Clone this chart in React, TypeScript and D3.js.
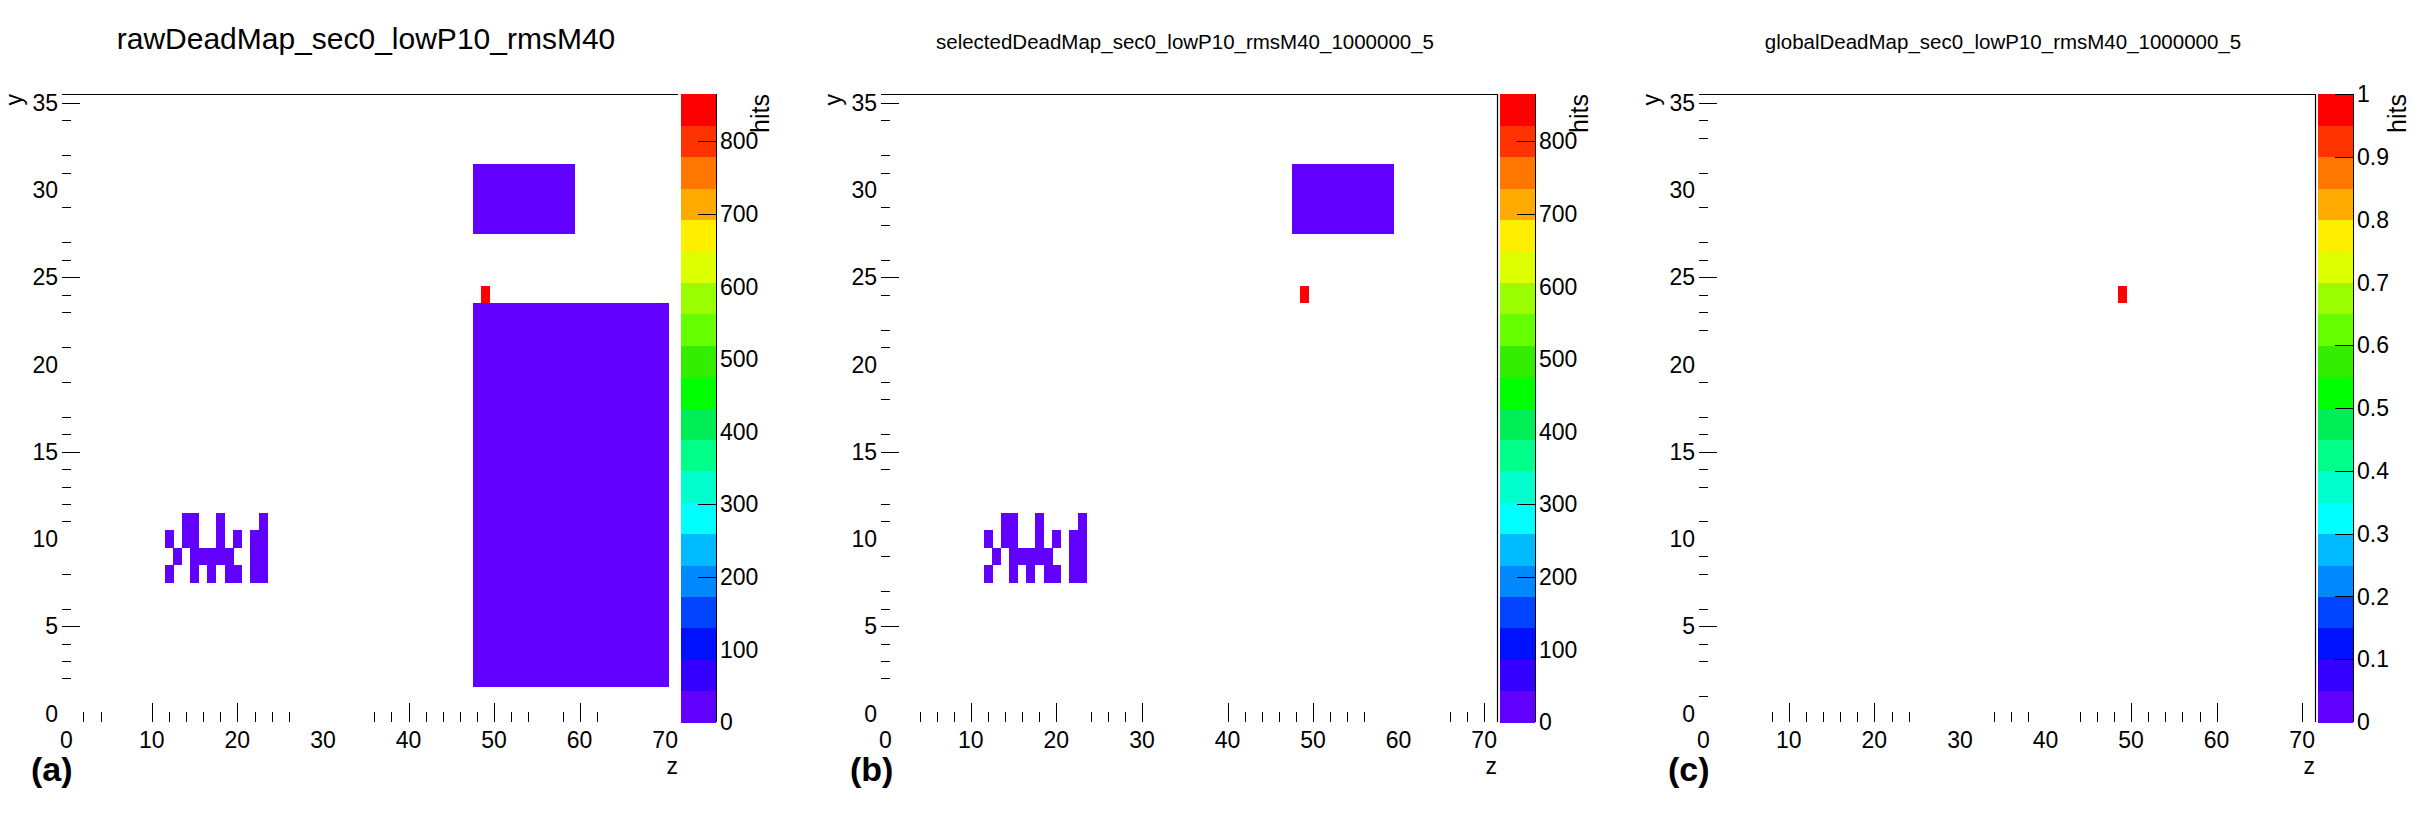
import React from 'react';
import * as d3 from 'd3';

// ---------------- data ----------------
const Z_BINS = 72;
const Y_BINS = 36;

const palette = [
  '#6200ff', '#3300ff', '#0011ff', '#0044ff', '#0088ff',
  '#00bbff', '#00ffff', '#00ffcc', '#00ff88', '#00ee55',
  '#00ff00', '#33ee00', '#66ff00', '#99ff00', '#ddff00',
  '#ffee00', '#ffaa00', '#ff7700', '#ff3300', '#ff0000',
];

const titles = [
  'rawDeadMap_sec0_lowP10_rmsM40',
  'selectedDeadMap_sec0_lowP10_rmsM40_1000000_5',
  'globalDeadMap_sec0_lowP10_rmsM40_1000000_5',
];
const panelLabels = ['(a)', '(b)', '(c)'];

// dead regions [zFrom, zTo, yFrom, yTo, value]
const rawBlocks: [number, number, number, number, number][] = [
  [48, 71, 2, 24, 1],
  [48, 60, 28, 32, 1],
];
const selectedBlocks: [number, number, number, number, number][] = [
  [48, 60, 28, 32, 1],
];
const globalBlocks: [number, number, number, number, number][] = [];

// small cluster of dead pads [z, y, value]
const clusterCells: [number, number, number][] = [
  [14, 11, 1], [15, 11, 1], [18, 11, 1], [23, 11, 1],
  [12, 10, 1], [14, 10, 1], [15, 10, 1], [18, 10, 1], [20, 10, 1], [22, 10, 1], [23, 10, 1],
  [13, 9, 1], [15, 9, 1], [16, 9, 1], [17, 9, 1], [18, 9, 1], [19, 9, 1], [22, 9, 1], [23, 9, 1],
  [12, 8, 1], [15, 8, 1], [17, 8, 1], [19, 8, 1], [20, 8, 1], [22, 8, 1], [23, 8, 1],
];

// hot pad [z, y, value]
const rawHot: [number, number, number] = [49, 24, 865];
const globalHot: [number, number, number] = [49, 24, 1];

const rawMax = 865;
const globalMax = 1;

const xTickLabels = [0, 10, 20, 30, 40, 50, 60, 70];
const yTickLabels = [0, 5, 10, 15, 20, 25, 30, 35];
const rawColorTicks = [0, 100, 200, 300, 400, 500, 600, 700, 800];
const globalColorTicks = [0, 0.1, 0.2, 0.3, 0.4, 0.5, 0.6, 0.7, 0.8, 0.9, 1];
const rawColorTickMarks = [200, 300, 700, 800];
const selColorTickMarks = [200, 300, 700, 800];
const globalColorTickMarks = [0.1, 0.2, 0.3, 0.4, 0.5, 0.6, 0.9, 1];

// visible tick marks of each panel
const xMajorA = [10, 20, 40, 50, 60];
const xMinorA = [2, 4, 12, 14, 16, 18, 22, 24, 26, 36, 38, 42, 44, 46, 48, 52, 54, 58, 62];
const xMajorB = [10, 20, 30, 40, 50, 70];
const xMinorB = [4, 6, 8, 12, 14, 16, 18, 24, 26, 28, 42, 44, 46, 48, 52, 54, 56, 66, 68];
const xMajorC = [10, 20, 50, 60, 70];
const xMinorC = [8, 12, 14, 16, 18, 22, 24, 34, 36, 38, 44, 46, 48, 52, 54, 56, 58];
const yMajorA = [5, 15, 25, 35];
const yMinorA = [2, 3, 4, 6, 8, 11, 12, 13, 14, 16, 17, 19, 21, 23, 24, 26, 27, 29, 31, 32, 34];
const yMajorB = [5, 15, 25, 35];
const yMinorB = [2, 3, 4, 6, 7, 9, 11, 12, 14, 16, 18, 19, 21, 22, 24, 26, 28, 29, 31, 32, 34];
const yMajorC = [5, 15, 25, 35];
const yMinorC = [1, 3, 4, 6, 8, 9, 11, 13, 14, 16, 17, 19, 22, 23, 24, 26, 27, 29, 31, 33, 34];

// ---------------- layout ----------------
const FONT = "'Liberation Sans', Arial, Helvetica, sans-serif";
const W = 2418;
const H = 813;
const TOP = 94;
const BOTTOM = 722;
const FRAME_W = 616;

type Panel = {
  x0: number;
  title: string;
  titleSize: number;
  label: string;
  blocks: [number, number, number, number, number][];
  cells: [number, number, number][];
  hot: [number, number, number];
  max: number;
  colorTicks: number[];
  colorTickMarks: number[];
  xMajor: number[];
  xMinor: number[];
  yMajor: number[];
  yMinor: number[];
  rightLine: boolean;
};

const panels: Panel[] = [
  {
    x0: 62, title: titles[0], titleSize: 30, label: panelLabels[0],
    blocks: rawBlocks, cells: clusterCells, hot: rawHot, max: rawMax,
    colorTicks: rawColorTicks, colorTickMarks: rawColorTickMarks,
    xMajor: xMajorA, xMinor: xMinorA, yMajor: yMajorA, yMinor: yMinorA, rightLine: false,
  },
  {
    x0: 881, title: titles[1], titleSize: 20.5, label: panelLabels[1],
    blocks: selectedBlocks, cells: clusterCells, hot: rawHot, max: rawMax,
    colorTicks: rawColorTicks, colorTickMarks: selColorTickMarks,
    xMajor: xMajorB, xMinor: xMinorB, yMajor: yMajorB, yMinor: yMinorB, rightLine: true,
  },
  {
    x0: 1699, title: titles[2], titleSize: 20.5, label: panelLabels[2],
    blocks: globalBlocks, cells: [], hot: globalHot, max: globalMax,
    colorTicks: globalColorTicks, colorTickMarks: globalColorTickMarks,
    xMajor: xMajorC, xMinor: xMinorC, yMajor: yMajorC, yMinor: yMinorC, rightLine: true,
  },
];

function colorFor(v: number, max: number) {
  const idx = Math.max(0, Math.min(palette.length - 1, Math.floor((v / max) * palette.length)));
  return palette[idx];
}

function PanelView({ p }: { p: Panel }) {
  const xs = d3.scaleLinear().domain([0, Z_BINS]).range([p.x0, p.x0 + FRAME_W]);
  const ys = d3.scaleLinear().domain([0, Y_BINS]).range([BOTTOM, TOP]);
  const ax = (v: number) => xs(v + 0.5);
  const ay = (v: number) => ys(v + 0.5);
  const cbL = p.x0 + 619;
  const cbR = cbL + 35;
  const cs = d3.scaleLinear().domain([0, p.max]).range([BOTTOM, TOP]);
  const bands = d3.range(palette.length);
  const fmt = (v: number) => (p.max <= 1 ? d3.format('~g')(v) : String(v));
  const labelSize = 23;

  return (
    <g>
      {/* cells */}
      <g shapeRendering="crispEdges">
        {p.blocks.map((b, i) => (
          <rect key={'b' + i} x={xs(b[0])} y={ys(b[3])} width={xs(b[1]) - xs(b[0])}
            height={ys(b[2]) - ys(b[3])} fill={colorFor(b[4], p.max)} />
        ))}
        {p.cells.map((c, i) => (
          <rect key={'c' + i} x={xs(c[0])} y={ys(c[1] + 1)} width={xs(c[0] + 1) - xs(c[0]) + 0.4}
            height={ys(c[1]) - ys(c[1] + 1) + 0.4} fill={colorFor(c[2], p.max)} />
        ))}
        <rect x={xs(p.hot[0])} y={ys(p.hot[1] + 1)} width={xs(p.hot[0] + 1) - xs(p.hot[0])}
          height={ys(p.hot[1]) - ys(p.hot[1] + 1)} fill={colorFor(p.hot[2], p.max)} />
      </g>

      {/* frame */}
      <line x1={p.x0} x2={p.x0 + FRAME_W} y1={TOP + 0.5} y2={TOP + 0.5} stroke="#000" strokeWidth={1.2} />
      {p.rightLine && (
        <line x1={p.x0 + FRAME_W + 0.5} x2={p.x0 + FRAME_W + 0.5} y1={TOP} y2={BOTTOM} stroke="#000" strokeWidth={1.2} />
      )}

      {/* x ticks */}
      {p.xMajor.map((v) => (
        <line key={'xM' + v} x1={Math.round(ax(v)) + 0.5} x2={Math.round(ax(v)) + 0.5} y1={BOTTOM} y2={BOTTOM - 19} stroke="#000" strokeWidth={1} />
      ))}
      {p.xMinor.map((v) => (
        <line key={'xm' + v} x1={Math.round(ax(v)) + 0.5} x2={Math.round(ax(v)) + 0.5} y1={BOTTOM} y2={BOTTOM - 10} stroke="#000" strokeWidth={1} />
      ))}
      {/* y ticks */}
      {p.yMajor.map((v) => (
        <line key={'yM' + v} x1={p.x0} x2={p.x0 + 18} y1={Math.round(ay(v)) + 0.5} y2={Math.round(ay(v)) + 0.5} stroke="#000" strokeWidth={1} />
      ))}
      {p.yMinor.map((v) => (
        <line key={'ym' + v} x1={p.x0} x2={p.x0 + 9} y1={Math.round(ay(v)) + 0.5} y2={Math.round(ay(v)) + 0.5} stroke="#000" strokeWidth={1} />
      ))}

      {/* tick labels */}
      {xTickLabels.map((v) => (
        <text key={'xl' + v} x={ax(v)} y={748} textAnchor="middle" fontSize={labelSize} fontFamily={FONT}>{v}</text>
      ))}
      {yTickLabels.map((v) => (
        <text key={'yl' + v} x={p.x0 - 4} y={ay(v)} dy="0.36em" textAnchor="end" fontSize={labelSize} fontFamily={FONT}>{v}</text>
      ))}

      {/* axis titles */}
      <text x={p.x0 + FRAME_W} y={774} textAnchor="end" fontSize={labelSize} fontFamily={FONT}>z</text>
      <text transform={`translate(${p.x0 - 40},${TOP}) rotate(-90)`} textAnchor="end" fontSize={labelSize} fontFamily={FONT}>y</text>

      {/* title */}
      <text x={p.x0 + 304} y={49} textAnchor="middle" fontSize={p.titleSize} fontFamily={FONT}>{p.title}</text>

      {/* panel label */}
      <text x={p.x0 - 31} y={781} fontSize={34} fontWeight="bold" fontFamily={FONT}>{p.label}</text>

      {/* colour bar */}
      <g shapeRendering="crispEdges">
        {bands.map((i) => {
          const v0 = (i * p.max) / palette.length;
          const v1 = ((i + 1) * p.max) / palette.length;
          return <rect key={'cb' + i} x={cbL} y={cs(v1)} width={cbR - cbL} height={cs(v0) - cs(v1) + 0.5} fill={palette[i]} />;
        })}
      </g>
      <line x1={cbR + 0.5} x2={cbR + 0.5} y1={TOP} y2={BOTTOM} stroke="#000" strokeWidth={1} />
      {p.colorTickMarks.map((v) => (
        <line key={'ct' + v} x1={cbR - 18} x2={cbR} y1={Math.round(cs(v)) + 0.5} y2={Math.round(cs(v)) + 0.5} stroke="#000" strokeWidth={1} />
      ))}
      {p.colorTicks.map((v) => (
        <text key={'cl' + v} x={cbR + 4} y={cs(v)} dy="0.36em" fontSize={labelSize} fontFamily={FONT}>{fmt(v)}</text>
      ))}
      <text transform={`translate(${cbL + 88},${TOP}) rotate(-90)`} textAnchor="end" fontSize={25} fontFamily={FONT}>hits</text>
    </g>
  );
}

export default function App() {
  return (
    <svg width={W} height={H} viewBox={`0 0 ${W} ${H}`}
      style={{ position: 'absolute', left: 0, top: 0, background: '#fff', display: 'block' }}>
      <rect x={0} y={0} width={W} height={H} fill="#fff" />
      {panels.map((p, i) => <PanelView key={i} p={p} />)}
    </svg>
  );
}
